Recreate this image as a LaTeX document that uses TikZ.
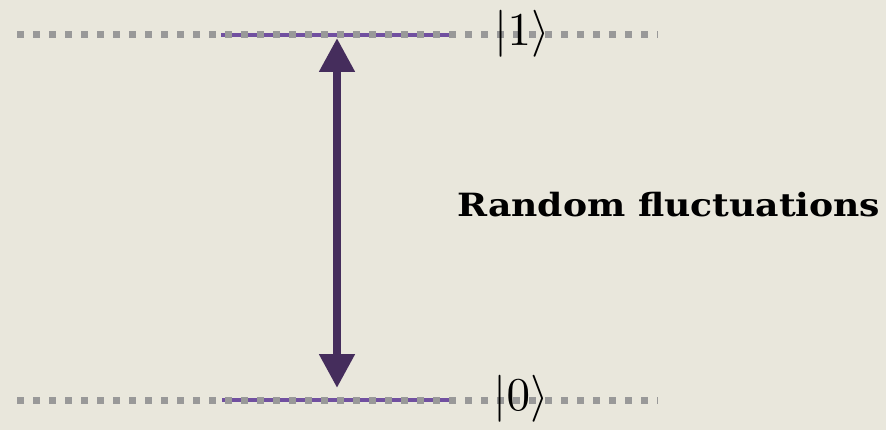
\documentclass[tikz,border=0pt]{standalone}
\usepackage{fontspec}
\newfontfamily\labelfont{DejaVu Serif}
\usetikzlibrary{arrows.meta}
\definecolor{paper}{HTML}{E9E7DC}
\definecolor{levelgray}{HTML}{999999}
\definecolor{levelpurple}{HTML}{7150A0}
\definecolor{arrowpurple}{HTML}{452D5C}
\tikzset{
  levelline/.style={levelgray, line width=7pt, dash pattern=on 7pt off 9pt},
  levelmark/.style={levelpurple, line width=4.5pt},
  ket/.style={inner sep=0pt},
  transition/.style={arrowpurple, line width=8pt, {Triangle[width=34pt,length=34pt]}-{Triangle[width=34pt,length=34pt]}},
}
\begin{document}
\begin{tikzpicture}[x=1pt,y=-1pt]
\useasboundingbox[fill=paper] (0,0) rectangle (886,430);
% level |1>
\coordinate (l1a) at (17,35);
\coordinate (l1b) at (658,35);
\coordinate (p1a) at (221,35);
\coordinate (p1b) at (450,35);
\draw[levelmark] (p1a) -- (p1b);
\draw[levelline] (l1a) -- (l1b);
% level |0>
\coordinate (l0a) at (17,400);
\coordinate (l0b) at (658,400);
\coordinate (p0a) at (222,400);
\coordinate (p0b) at (449,400);
\draw[levelmark] (p0a) -- (p0b);
\draw[levelline] (l0a) -- (l0b);
% kets
\node[ket] (k1) at (522,34) {\scalebox{4.7}{$|1\rangle$}};
\node[ket] (k0) at (521,399) {\scalebox{4.7}{$|0\rangle$}};
% transition arrow
\coordinate (up) at (337,38);
\coordinate (dn) at (337,388);
\draw[transition] (up) -- (dn);
% label
\node[anchor=base west, inner sep=0pt, font=\labelfont\bfseries\fontsize{32}{32}\selectfont] (lab) at (457,217) {\scalebox{1.13}[1]{Random fluctuations}};
\end{tikzpicture}
\end{document}
